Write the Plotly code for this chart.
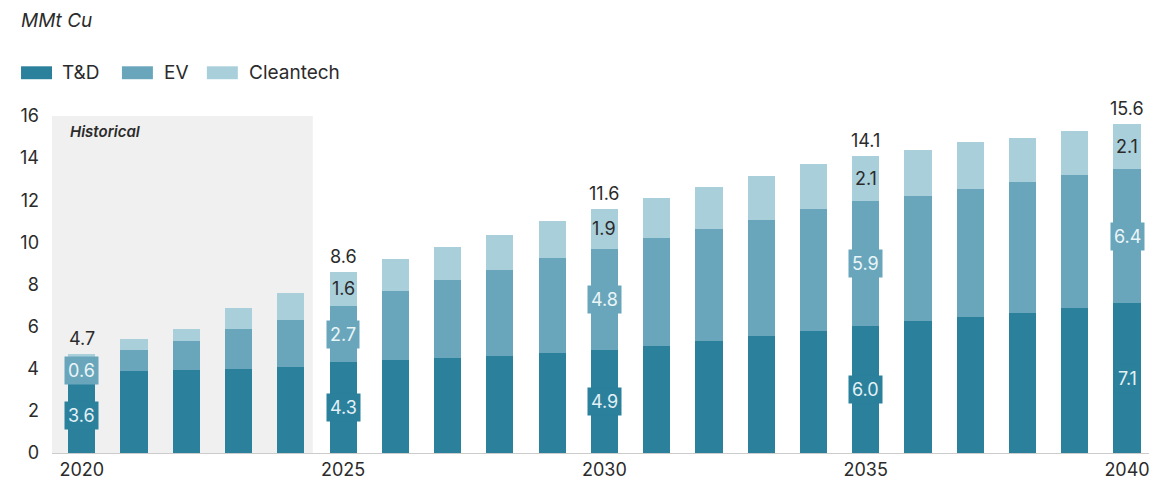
import plotly.graph_objects as go

years = list(range(2020, 2041))
td = [3.6, 3.9, 3.95, 4.0, 4.1, 4.3, 4.4, 4.5, 4.6, 4.75, 4.9,
      5.1, 5.3, 5.55, 5.8, 6.04, 6.25, 6.45, 6.65, 6.9, 7.1]
ev = [0.6, 1.0, 1.35, 1.9, 2.2, 2.7, 3.3, 3.7, 4.1, 4.5, 4.8,
      5.1, 5.35, 5.5, 5.8, 5.93, 5.95, 6.1, 6.2, 6.3, 6.4]
clean = [0.5, 0.5, 0.6, 1.0, 1.3, 1.6, 1.5, 1.6, 1.65, 1.75, 1.9,
         1.9, 2.0, 2.1, 2.1, 2.13, 2.2, 2.2, 2.1, 2.1, 2.1]
labelled_years = [2020, 2025, 2030, 2035, 2040]
x_ticks = [2020, 2025, 2030, 2035, 2040]
y_ticks = [0, 2, 4, 6, 8, 10, 12, 14, 16]
hist_end = 2024.42

C_TD = "#2b809c"
C_EV = "#69a6bb"
C_CL = "#a9cfdb"
FONT = "Inter"
TXT = "#2b2b2b"

fig = go.Figure()
for name, vals, col in [("T&D", td, C_TD), ("EV", ev, C_EV), ("Cleantech", clean, C_CL)]:
    fig.add_trace(go.Bar(x=years, y=vals, name=name, marker=dict(color=col, line=dict(width=0)),
                         width=0.52, showlegend=False))

# historical shading
fig.add_shape(type="rect", xref="x", yref="y", x0=2019.43, x1=hist_end, y0=0, y1=16,
              fillcolor="#f0f0f0", line=dict(width=0), layer="below")
fig.add_annotation(x=2019.43, y=16, xref="x", yref="y", text="<i>Historical</i>",
                   showarrow=False, xanchor="left", yanchor="top", xshift=16, yshift=-4,
                   font=dict(family=FONT, size=15, color=TXT, weight=600))

# value labels on highlighted years
for i, yr in enumerate(years):
    if yr not in labelled_years:
        continue
    total = td[i] + ev[i] + clean[i]
    fig.add_annotation(x=yr, y=total, text=f"{total:.1f}", showarrow=False, yanchor="bottom",
                       yshift=3, font=dict(family=FONT, size=18, color=TXT))
    fig.add_annotation(x=yr, y=td[i] / 2, text=f"{td[i]:.1f}", showarrow=False,
                       bgcolor=C_TD, borderpad=3, font=dict(family=FONT, size=18, color="#e3f1f6"))
    fig.add_annotation(x=yr, y=td[i] + ev[i] / 2, text=f"{ev[i]:.1f}", showarrow=False,
                       bgcolor=C_EV, borderpad=3, font=dict(family=FONT, size=18, color="#eaf5f8"))
    if yr != 2020:
        fig.add_annotation(x=yr, y=td[i] + ev[i] + clean[i] / 2, text=f"{clean[i]:.1f}",
                           showarrow=False, font=dict(family=FONT, size=18, color=TXT))

# unit title
fig.add_annotation(xref="paper", yref="paper", x=-0.030, y=1.0, xanchor="left", yanchor="top",
                   text="<i>MMt Cu</i>", showarrow=False, yshift=109,
                   font=dict(family=FONT, size=19, color=TXT))

# legend swatches
legend_items = [("T&D", C_TD, 21, 60), ("EV", C_EV, 122, 162), ("Cleantech", C_CL, 207, 247)]
for label, col, sx, tx in legend_items:
    fig.add_shape(type="rect", xref="paper", yref="paper",
                  x0=(sx - 52) / 1098, x1=(sx + 31 - 52) / 1098,
                  y0=(455 - 79) / 339, y1=(455 - 66) / 339,
                  fillcolor=col, line=dict(width=0))
    fig.add_annotation(xref="paper", yref="paper", x=(tx - 52) / 1098, y=(455 - 72.5) / 339,
                       xanchor="left", yanchor="middle", text=label, showarrow=False,
                       font=dict(family=FONT, size=19, color=TXT))

fig.update_layout(
    width=1158, height=488, barmode="stack",
    margin=dict(l=52, r=8, t=116, b=33),
    plot_bgcolor="white", paper_bgcolor="white",
    font=dict(family=FONT, size=18, color=TXT),
    showlegend=False,
)
fig.update_xaxes(range=[2019.43, 2040.42], tickvals=x_ticks, ticks="", showgrid=False,
                 showline=True, linecolor="#cccccc", linewidth=1, zeroline=False,
                 tickfont=dict(family=FONT, size=18, color=TXT))
fig.update_yaxes(range=[0, 16], tickvals=y_ticks, showgrid=False, zeroline=False,
                 showline=False, ticks="", ticklabelstandoff=12,
                 tickfont=dict(family=FONT, size=18, color=TXT))

fig.write_html("out.html")
